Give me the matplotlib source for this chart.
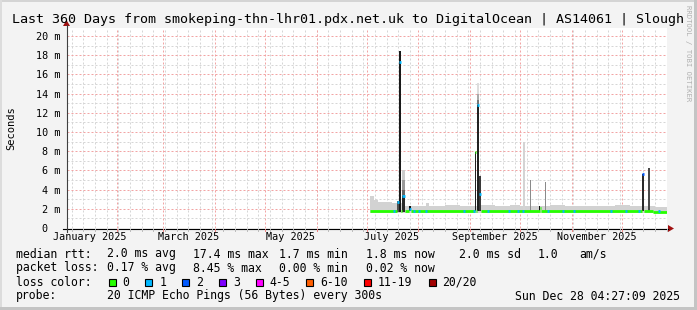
import datetime as dt
import matplotlib
matplotlib.use("Agg")
import matplotlib.pyplot as plt
from matplotlib.patches import Rectangle, Polygon
from matplotlib.lines import Line2D
from matplotlib.transforms import Affine2D

W, H = 697, 310
MONO = "DejaVu Sans Mono"

# time axis: 360 days ending at the graph timestamp
END = dt.datetime(2025, 12, 28, 4, 27, 9)
START = END - dt.timedelta(days=360)

# y axis (ms)
y_ticks = [0, 2, 4, 6, 8, 10, 12, 14, 16, 18, 20]
y_labels = ["0  ", "2 m", "4 m", "6 m", "8 m", "10 m", "12 m", "14 m", "16 m", "18 m", "20 m"]
x_label_months = ["January 2025", "March 2025", "May 2025", "July 2025",
                  "September 2025", "November 2025"]

# smoke (light gray band), step starts in days from START, top in ms
smoke_days = [181.8, 184.2, 186.6, 190.8, 195.0, 198.0, 202.8, 211.8, 215.4, 217.2,
              226.8, 235.8, 247.8, 256.8, 265.8, 271.8, 280.8, 289.8, 298.8, 307.8,
              319.8, 328.8, 337.8, 346.8, 352.8, 360.0]
smoke_top = [3.3, 2.9, 2.7, 2.75, 2.6, 2.6, 2.3, 2.25, 2.6, 2.3,
             2.35, 2.25, 2.35, 2.3, 2.4, 2.3, 2.3, 2.35, 2.3, 2.25,
             2.3, 2.35, 2.25, 2.3, 2.2, 2.2]
smoke_bottom = 1.6

# dark smoke spikes: start day, width (days), bottom, top, colour
spike_start = [197.8, 199.2, 201.2, 201.2, 201.2, 201.2, 205.4, 244.8, 245.8, 245.8,
               245.8, 245.8, 247.2, 273.4, 277.8, 283.2, 286.8, 344.8, 348.6]
spike_width = [1.4, 1.2, 1.6, 1.6, 1.6, 1.6, 0.8, 0.8, 1.4, 1.4,
               1.4, 1.4, 1.0, 1.4, 0.6, 0.8, 0.6, 1.6, 1.2]
spike_bottom = [1.7, 1.7, 1.7, 1.7, 1.7, 1.7, 1.8, 1.8, 1.8, 1.8,
                1.8, 1.8, 1.8, 1.8, 1.8, 1.7, 1.8, 1.8, 1.8]
spike_top = [2.8, 18.4, 6.0, 5.0, 4.0, 3.3, 2.3, 7.9, 15.1, 14.0,
             13.3, 12.8, 5.4, 9.0, 5.0, 2.3, 4.8, 5.6, 6.3]
spike_color = ["#505050", "#1a1a1a", "#cccccc", "#9a9a9a", "#666666", "#2a2a2a", "#111111",
               "#222222", "#dddddd", "#aaaaaa", "#777777", "#222222", "#3a3a3a",
               "#d4d4d4", "#8a8a8a", "#111111", "#8a8a8a", "#2a2a2a", "#4a4a4a"]

# median rtt segments: start day, end day, value (ms), loss class
med_start = [181.8, 197.8, 199.2, 200.4, 201.2, 202.8, 205.3, 206.5, 244.8, 245.4,
             245.8, 247.2, 248.2, 283.5, 284.3, 344.8, 346.2, 351.6]
med_end = [197.8, 199.2, 200.4, 201.2, 202.8, 205.3, 206.5, 244.8, 245.4, 245.8,
           247.2, 248.2, 283.5, 284.3, 344.8, 346.2, 351.6, 360.0]
med_val = [1.8, 2.7, 17.3, 1.8, 3.3, 1.8, 2.0, 1.8, 7.9, 1.8,
           12.8, 3.5, 1.8, 2.1, 1.8, 5.6, 1.8, 1.65]
med_loss = [0, 1, 1, 0, 1, 0, 1, 0, 0, 0,
            1, 1, 0, 0, 0, 2, 0, 0]
# short loss-1 blips on the baseline (days)
blip_days = [195.6, 207.6, 210.6, 214.8, 237.6, 243.6, 252.0, 264.6, 270.0, 273.0,
             288.0, 297.0, 303.6, 325.8, 334.8, 342.6, 354.6]

loss_labels = ["0", "1", "2", "3", "4-5", "6-10", "11-19", "20/20"]
loss_colors = ["#26ff00", "#00b8ff", "#0059ff", "#7e00ff", "#ff00ff", "#ff5e00", "#ff0000", "#a10000"]

stats_rtt = ["median rtt:", "2.0 ms avg", "17.4 ms max", "1.7 ms min", "1.8 ms now", "2.0 ms sd", "1.0", "am/s"]
stats_loss = ["packet loss:", "0.17 % avg", "8.45 % max", "0.00 % min", "0.02 % now"]
probe_text = "20 ICMP Echo Pings (56 Bytes) every 300s"
stamp_text = "Sun Dec 28 04:27:09 2025"
title = "Last 360 Days from smokeping-thn-lhr01.pdx.net.uk to DigitalOcean | AS14061 | Slough"


def days(t):
    return (t - START).total_seconds() / 86400.0


fig = plt.figure(figsize=(W / 100, H / 100), dpi=100, facecolor="#f3f3f3")
pix = Affine2D().scale(1.0 / W, -1.0 / H).translate(0, 1) + fig.transFigure

# frame
fig.add_artist(Rectangle((0, 0), W, 2, transform=pix, color="#d4d4d4", lw=0))
fig.add_artist(Rectangle((0, 0), 2, H, transform=pix, color="#dcdcdc", lw=0))
fig.add_artist(Rectangle((W - 3, 0), 3, H, transform=pix, color="#c4c4c4", lw=0))
fig.add_artist(Rectangle((0, H - 3), W, 3, transform=pix, color="#c4c4c4", lw=0))

PL, PT, PW, PH = 67, 28, 600, 200
ax = fig.add_axes([PL / W, (H - PT - PH) / H, PW / W, PH / H])
ax.set_facecolor("white")
ax.set_xlim(0, 360)
ax.set_ylim(0, 20.833)
for s in ax.spines.values():
    s.set_visible(False)

# grid, dotted
dash = dict(lw=0.72, dashes=(2, 2))
d = dt.datetime(2025, 1, 5)
while d < END:
    ax.axvline(days(d), color="#d6d6d6", zorder=0, **dash)
    d += dt.timedelta(days=7)
for yv in range(1, 21, 2):
    ax.axhline(yv, color="#d6d6d6", zorder=0, **dash)
month_starts = [dt.datetime(2025, m, 1) for m in range(2, 13)]
for m in month_starts:
    ax.axvline(days(m), color="#f2a4a4", zorder=0.5, **dash)
for yv in range(2, 21, 2):
    ax.axhline(yv, color="#f2a4a4", zorder=0.5, **dash)

# smoke
ax.fill_between(smoke_days, smoke_bottom, smoke_top, step="post", color="#d2d2d2", lw=0, zorder=1)
ax.bar(spike_start, [t - b for t, b in zip(spike_top, spike_bottom)], width=spike_width,
       bottom=spike_bottom, align="edge", color=spike_color, lw=0, zorder=2)

# median line
for s0, s1, v, l in zip(med_start, med_end, med_val, med_loss):
    ax.plot([s0, s1], [v, v], color=loss_colors[l], lw=2, solid_capstyle="butt", zorder=3)
for b in blip_days:
    ax.plot([b, b + 1.0], [1.8, 1.8], color=loss_colors[1], lw=2, solid_capstyle="butt", zorder=3)

# ticks / labels
ax.set_yticks(y_ticks)
ax.set_yticklabels(y_labels, fontfamily=MONO, fontsize=7.3)
label_pos = [days(dt.datetime(2025, m, 1)) + 15 for m in (1, 3, 5, 7, 9, 11)]
ax.set_xticks(label_pos)
ax.set_xticklabels(x_label_months, fontfamily=MONO, fontsize=7.3)
ax.tick_params(axis="y", length=0, pad=5)
ax.tick_params(axis="x", length=0, pad=3)
ax.set_ylabel("Seconds", fontfamily=MONO, fontsize=7.5, labelpad=14)

# axes lines with arrows
fig.add_artist(Line2D([63, 668], [228.5, 228.5], transform=pix, color="black", lw=0.8))
fig.add_artist(Line2D([66.5, 66.5], [232, 25], transform=pix, color="#404040", lw=0.8))
fig.add_artist(Polygon([[668, 225], [674, 228.5], [668, 232]], transform=pix, color="#a01010", lw=0))
fig.add_artist(Polygon([[63, 26], [66.5, 20], [70, 26]], transform=pix, color="#a01010", lw=0))
d = dt.datetime(2025, 1, 5)
while d < END:
    xp = PL + days(d) * PW / 360
    fig.add_artist(Line2D([xp, xp], [228.5, 231], transform=pix, color="#bbbbbb", lw=0.7))
    d += dt.timedelta(days=7)
for m in month_starts:
    xp = PL + days(m) * PW / 360
    fig.add_artist(Line2D([xp, xp], [228.5, 231], transform=pix, color="#f08080", lw=0.7))

# title and watermark
fig.text(12, 19, title, transform=pix, fontfamily=MONO, fontsize=9.6, va="center", ha="left")
fig.text(688, 5, "RRDTOOL / TOBI OETIKER", transform=pix, fontfamily=MONO, fontsize=5.2,
         rotation=270, va="top", ha="center", color="#b0b0b0")

# legend
cols = [16, 107.3, 193.3, 279.3, 365.7, 459, 537.3, 579.3]
LS = 8.3
for x, s in zip(cols, stats_rtt):
    fig.text(x, 254, s, transform=pix, fontfamily=MONO, fontsize=LS, va="center")
for x, s in zip(cols, stats_loss):
    fig.text(x, 268, s, transform=pix, fontfamily=MONO, fontsize=LS, va="center")
fig.text(16, 282, "loss color:", transform=pix, fontfamily=MONO, fontsize=LS, va="center")
bx = 108.7
for lab, c in zip(loss_labels, loss_colors):
    fig.add_artist(Rectangle((bx, 278.5), 7, 7, transform=pix, facecolor=c, edgecolor="black", lw=0.8))
    fig.text(bx + 14, 282, lab, transform=pix, fontfamily=MONO, fontsize=LS, va="center")
    bx += 14 + 7.0 * len(lab) + 15.7
fig.text(16, 296, "probe:", transform=pix, fontfamily=MONO, fontsize=LS, va="center")
fig.text(107.3, 296, probe_text, transform=pix, fontfamily=MONO, fontsize=LS, va="center")
fig.text(680, 296, stamp_text, transform=pix, fontfamily=MONO, fontsize=LS, va="center", ha="right")

fig.savefig("out.png", dpi=100, facecolor=fig.get_facecolor())
